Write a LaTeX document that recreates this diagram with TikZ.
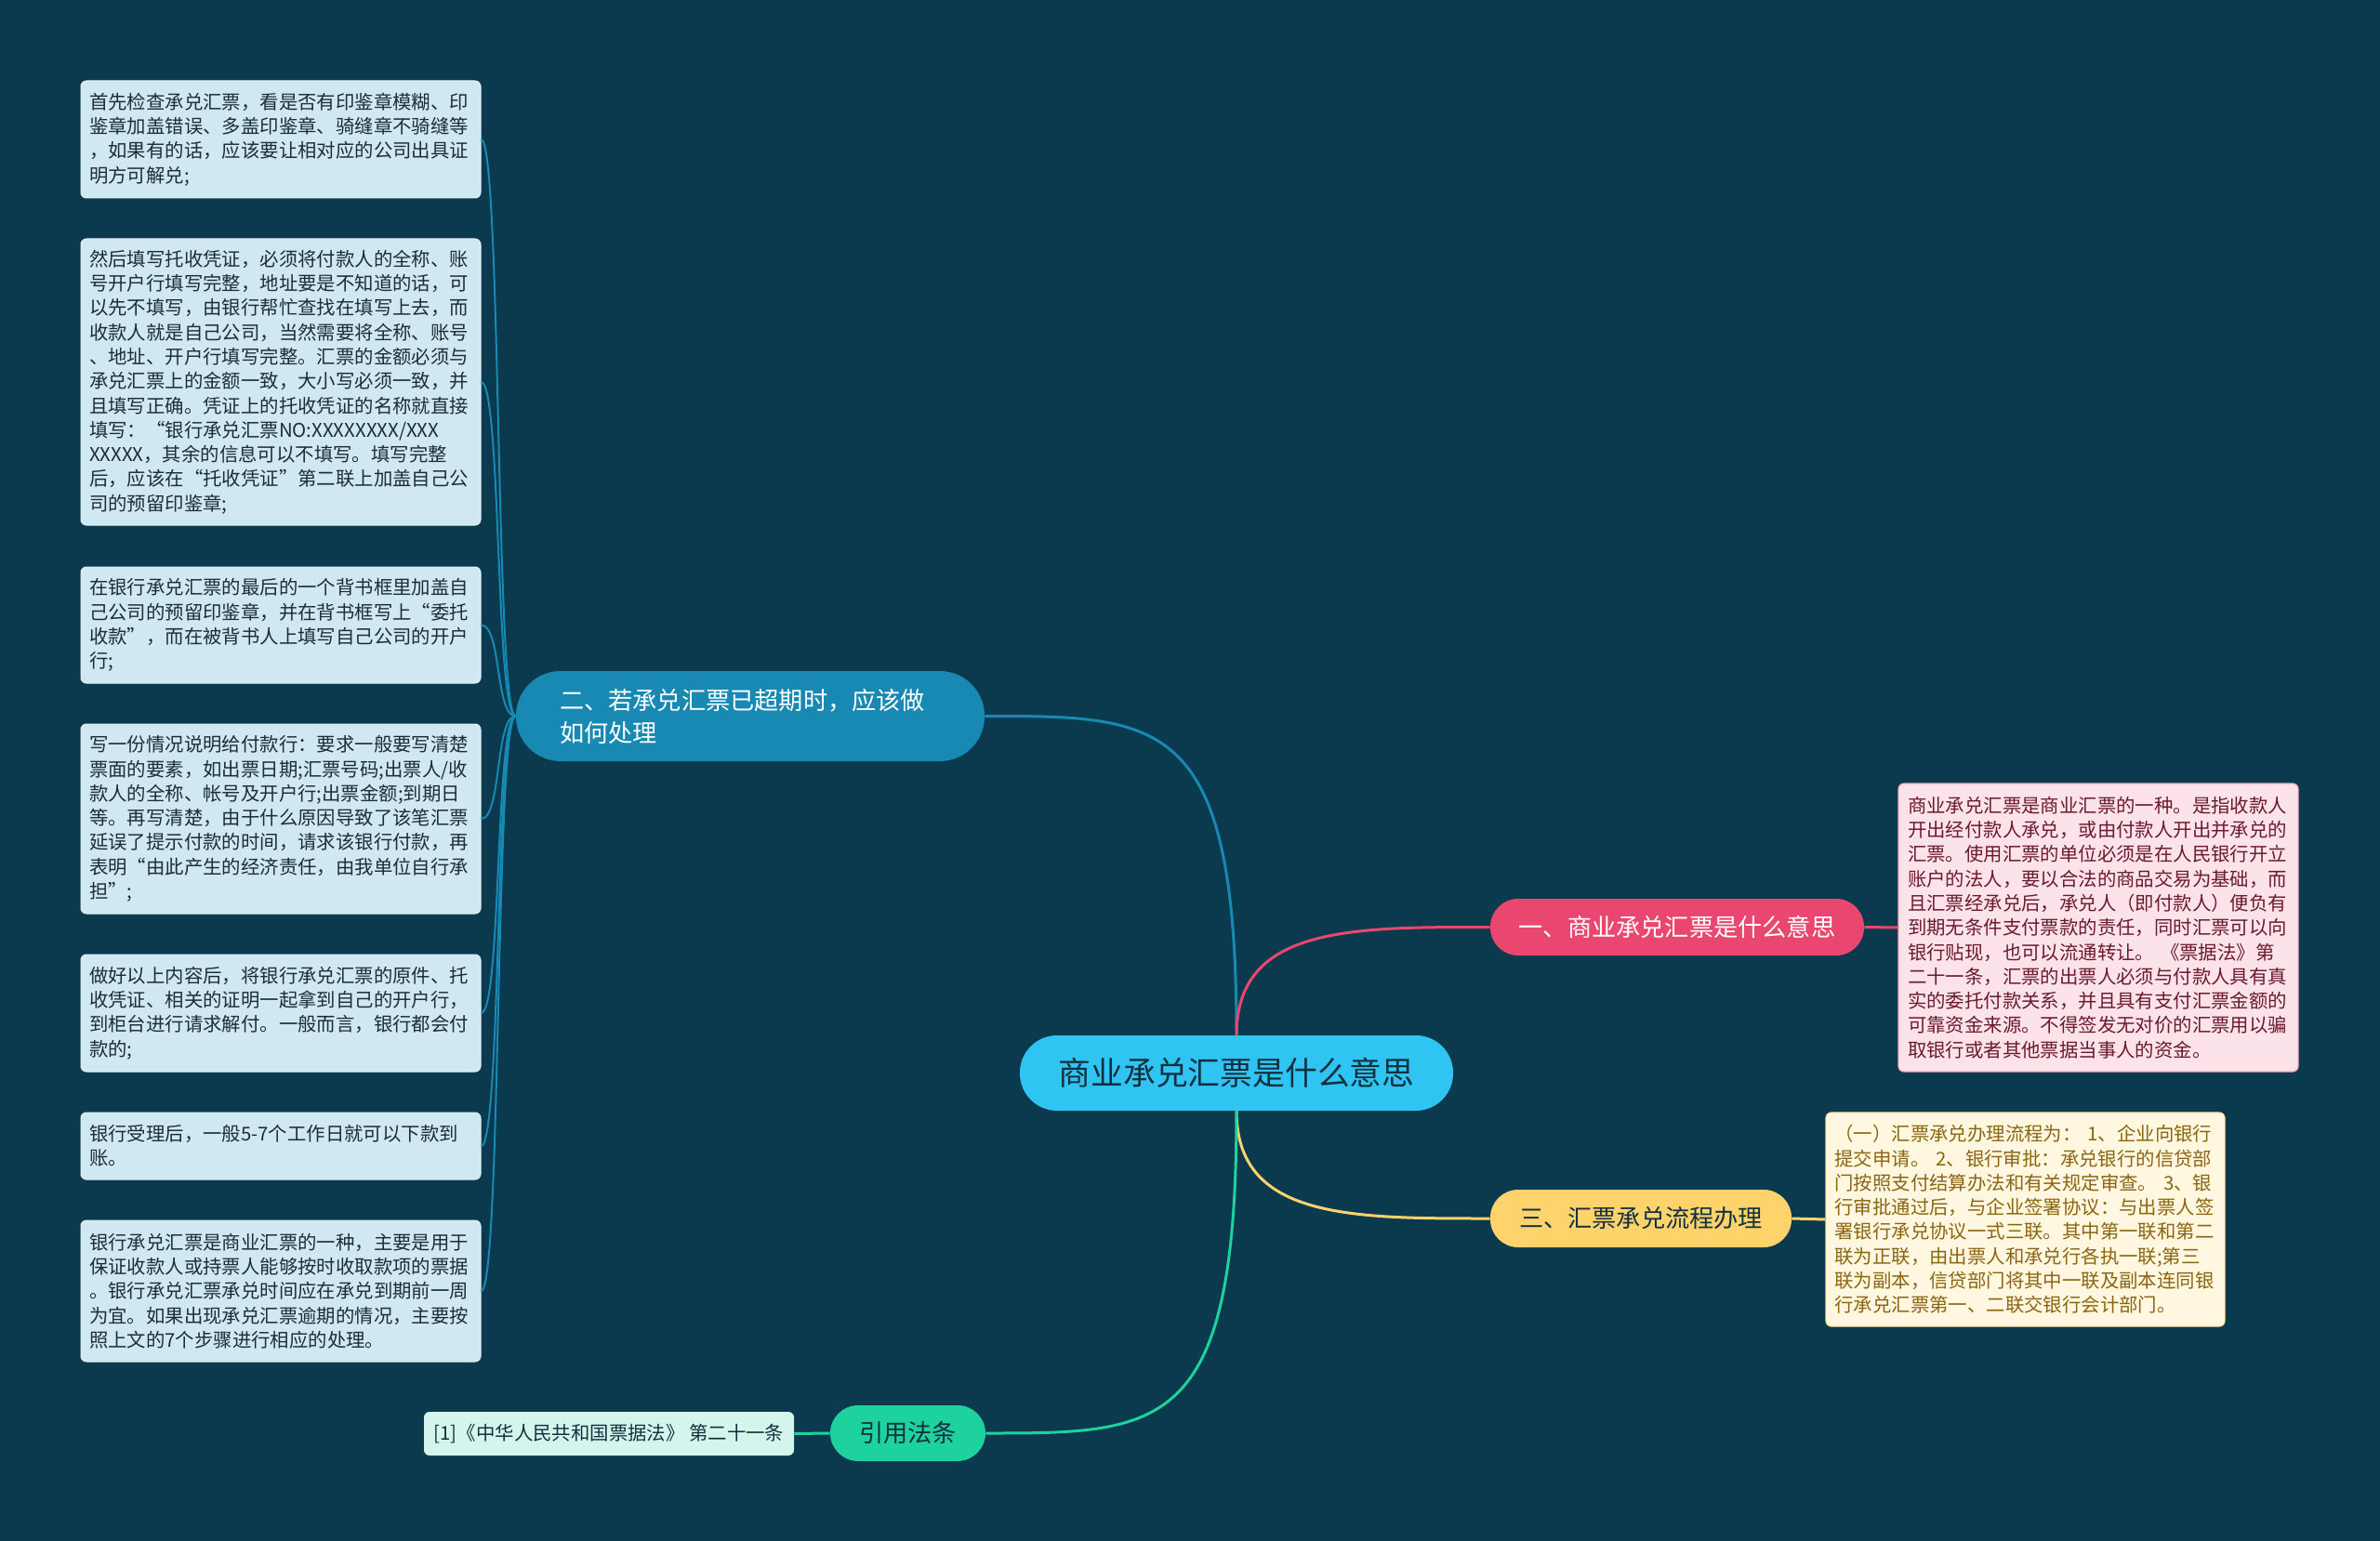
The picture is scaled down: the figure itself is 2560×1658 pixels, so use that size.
\documentclass[tikz,border=0pt]{standalone}
\usepackage{fontspec}
\setmainfont{Noto Sans CJK SC}
\definecolor{bg}{HTML}{0B3A4E}
\definecolor{cmain}{HTML}{30C4F3}
\definecolor{cblue}{HTML}{1789B3}
\definecolor{cpink}{HTML}{E9476F}
\definecolor{cyel}{HTML}{FFD36B}
\definecolor{cgreen}{HTML}{1ED29E}
\definecolor{leaffill}{HTML}{CFE8F1}
\definecolor{leaftext}{HTML}{1C2D38}
\definecolor{pinkfill}{HTML}{FCE3E9}
\definecolor{pinktext}{HTML}{6B1A30}
\definecolor{yelfill}{HTML}{FFF7E0}
\definecolor{yeltext}{HTML}{8C6511}
\definecolor{reffill}{HTML}{D3F5EC}
\definecolor{darktext}{HTML}{12313F}
\tikzset{
  smallfont/.style={font=\fontsize{10.2pt}{13.15pt}\selectfont},
  leafbox/.style={smallfont, draw=leaffill!60!white, line width=0.5pt, fill=leaffill, text=leaftext,
    rounded corners=3pt, text width=206pt, align=left, inner xsep=4.5pt, inner ysep=3pt},
  pinkleaf/.style={smallfont, draw=cpink!35!pinkfill, line width=0.6pt, fill=pinkfill, text=pinktext,
    rounded corners=3pt, text width=205pt, align=left, inner xsep=5pt, inner ysep=3pt},
  yelleaf/.style={smallfont, draw=cyel!50!yelfill, line width=0.6pt, fill=yelfill, text=yeltext,
    rounded corners=3pt, text width=205pt, align=left, inner xsep=4.75pt, inner ysep=3pt},
  refleaf/.style={smallfont, fill=reffill, text=darktext, rounded corners=3pt, inner xsep=5pt, inner ysep=3pt},
  branchfont/.style={font=\fontsize{13.1pt}{17.5pt}\selectfont},
  pill/.style={branchfont, inner sep=0pt, align=center},
  mainline/.style={line width=1.5pt},
  leafline/.style={line width=1pt, cblue},
}
\begin{document}
\begin{tikzpicture}[x=0.5pt,y=-0.5pt]
\useasboundingbox (0,0) rectangle (2560,1658);
\fill[bg] (0,0) rectangle (2560,1658);

% central node
\node[font=\fontsize{17.4pt}{21pt}\selectfont, fill=cmain, text=darktext, rounded corners=20pt,
  minimum width=233pt, minimum height=40.5pt, inner sep=0pt] (c) at (1330,1154.5) {商业承兑汇票是什么意思};

% branches
\node[pill, fill=cblue, text=white, rounded corners=24pt, minimum width=252pt, minimum height=48.5pt,
  text width=205pt, align=left, inner xsep=23.5pt] (br2) at (807,770.5)
  {二、若承兑汇票已超期时，应该做\\如何处理};
\node[pill, fill=cpink, text=white, rounded corners=15pt, minimum width=201pt, minimum height=30.5pt] (br1) at (1804,997.5)
  {一、商业承兑汇票是什么意思};
\node[pill, fill=cyel, text=darktext, rounded corners=15pt, minimum width=162pt, minimum height=31pt] (br3) at (1765,1311)
  {三、汇票承兑流程办理};
\node[pill, fill=cgreen, text=darktext, rounded corners=15pt, minimum width=83.5pt, minimum height=30pt] (law) at (976.5,1542)
  {引用法条};

% left leaves
\node[leafbox, minimum height=63pt] (b1) at (302,150) {首先检查承兑汇票，看是否有印鉴章模糊、印\\鉴章加盖错误、多盖印鉴章、骑缝章不骑缝等\\，如果有的话，应该要让相对应的公司出具证\\明方可解兑;};
\node[leafbox, minimum height=154pt] (b2) at (302,411) {然后填写托收凭证，必须将付款人的全称、账\\号开户行填写完整，地址要是不知道的话，可\\以先不填写，由银行帮忙查找在填写上去，而\\收款人就是自己公司，当然需要将全称、账号\\、地址、开户行填写完整。汇票的金额必须与\\承兑汇票上的金额一致，大小写必须一致，并\\且填写正确。凭证上的托收凭证的名称就直接\\填写：“银行承兑汇票NO:XXXXXXXX/XXX\\XXXXX，其余的信息可以不填写。填写完整\\后，应该在“托收凭证”第二联上加盖自己公\\司的预留印鉴章;};
\node[leafbox, minimum height=62.5pt] (b3) at (302,672.5) {在银行承兑汇票的最后的一个背书框里加盖自\\己公司的预留印鉴章，并在背书框写上“委托\\收款”，而在被背书人上填写自己公司的开户\\行;};
\node[leafbox, minimum height=102pt] (b4) at (302,881) {写一份情况说明给付款行：要求一般要写清楚\\票面的要素，如出票日期;汇票号码;出票人/收\\款人的全称、帐号及开户行;出票金额;到期日\\等。再写清楚，由于什么原因导致了该笔汇票\\延误了提示付款的时间，请求该银行付款，再\\表明“由此产生的经济责任，由我单位自行承\\担”;};
\node[leafbox, minimum height=63pt] (b5) at (302,1090) {做好以上内容后，将银行承兑汇票的原件、托\\收凭证、相关的证明一起拿到自己的开户行，\\到柜台进行请求解付。一般而言，银行都会付\\款的;};
\node[leafbox, minimum height=36pt] (b6) at (302,1233) {银行受理后，一般5-7个工作日就可以下款到\\账。};
\node[leafbox, minimum height=76pt] (b7) at (302,1389) {银行承兑汇票是商业汇票的一种，主要是用于\\保证收款人或持票人能够按时收取款项的票据\\。银行承兑汇票承兑时间应在承兑到期前一周\\为宜。如果出现承兑汇票逾期的情况，主要按\\照上文的7个步骤进行相应的处理。};

% right leaves
\node[pinkleaf, minimum width=215pt, minimum height=155pt] (pk) at (2257,998) {商业承兑汇票是商业汇票的一种。是指收款人\\开出经付款人承兑，或由付款人开出并承兑的\\汇票。使用汇票的单位必须是在人民银行开立\\账户的法人，要以合法的商品交易为基础，而\\且汇票经承兑后，承兑人（即付款人）便负有\\到期无条件支付票款的责任，同时汇票可以向\\银行贴现，也可以流通转让。~《票据法》第\\二十一条，汇票的出票人必须与付款人具有真\\实的委托付款关系，并且具有支付汇票金额的\\可靠资金来源。不得签发无对价的汇票用以骗\\取银行或者其他票据当事人的资金。};
\node[yelleaf, minimum width=214.5pt, minimum height=115pt] (yl) at (2178.5,1312) {（一）汇票承兑办理流程为：~1、企业向银行\\提交申请。~2、银行审批：承兑银行的信贷部\\门按照支付结算办法和有关规定审查。~3、银\\行审批通过后，与企业签署协议：与出票人签\\署银行承兑协议一式三联。其中第一联和第二\\联为正联，由出票人和承兑行各执一联;第三\\联为副本，信贷部门将其中一联及副本连同银\\行承兑汇票第一、二联交银行会计部门。};
\node[refleaf, minimum width=199pt, minimum height=23.5pt] (ref) at (655,1542.5) {[1]《中华人民共和国票据法》~第二十一条};

% main connectors
\draw[mainline, cblue] (c.north) .. controls +(0,-344) and +(190,0) .. (br2.east);
\draw[mainline, cpink] (c.north) .. controls +(0,-117) and +(-150,0) .. (br1.west);
\draw[mainline, cyel] (c.south) .. controls +(0,116) and +(-150,0) .. (br3.west);
\draw[mainline, cgreen] (c.south) .. controls +(0,347) and +(190,0) .. (law.east);

% short connectors
\draw[mainline, cpink] (br1.east) -- (pk.west);
\draw[mainline, cyel] (br3.east) -- (yl.west);
\draw[mainline, cgreen] (law.west) -- (ref.east);

% left tree connectors
\foreach \k in {b1,b2,b3,b4,b5,b6,b7}{
  \draw[leafline] (br2.west) .. controls +(-22,0) and +(22,0) .. (\k.east);
}
\end{tikzpicture}
\end{document}
